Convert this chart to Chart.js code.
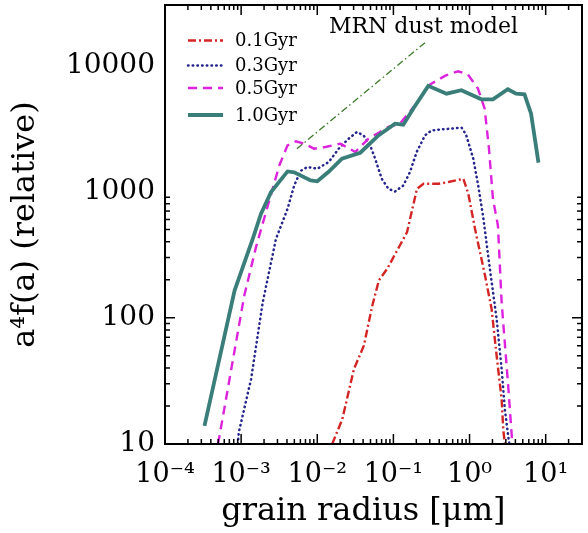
<!DOCTYPE html>
<html>
<head>
<meta charset="utf-8">
<script src="https://cdn.jsdelivr.net/npm/chart.js@4"></script>
<style>
html,body{margin:0;padding:0;background:#fff;}
#wrap{width:588px;height:533px;position:relative;}
</style>
</head>
<body>
<div id="wrap"><canvas id="c" width="588" height="533"></canvas></div>
<script>
// ---- data ----
const seriesNames = ['0.1Gyr', '0.3Gyr', '0.5Gyr', '1.0Gyr'];

const a_01 = [0.0157, 0.0213, 0.0303, 0.0409, 0.0527, 0.0643, 0.0828, 0.106, 0.151, 0.204, 0.249, 0.391, 0.528, 0.83, 0.964, 1.18, 1.60, 1.95, 2.27, 2.64, 2.77, 2.91];
const f_01 = [10, 15.7, 39.2, 60, 124, 197, 244, 321, 476, 1050, 1151, 1151, 1188, 1261, 959, 506, 215, 117, 49.9, 22.6, 13.1, 10];

const a_03 = [9.05e-4, 9.3e-4, 1.35e-3, 1.92e-3, 2.87e-3, 4.07e-3, 4.98e-3, 6.08e-3, 7.44e-3, 0.0100, 0.0141, 0.0191, 0.0258, 0.0331, 0.0405, 0.0496, 0.0576, 0.0703, 0.0861, 0.105, 0.135, 0.165, 0.202, 0.260, 0.317, 0.428, 0.578, 0.786, 0.90, 1.12, 1.30, 1.51, 1.85, 2.27, 2.64, 2.91, 3.22, 3.33];
const f_03 = [10, 12.3, 32.6, 132, 422, 730, 1116, 1460, 1563, 1514, 1711, 2183, 2618, 2958, 2782, 2317, 1818, 1261, 1050, 1000, 1116, 1425, 2054, 2782, 3046, 3105, 3147, 3206, 2820, 1818, 1116, 630, 244, 97.7, 39.2, 18.8, 11.6, 10];

const a_05 = [4.96e-4, 5.2e-4, 1.10e-3, 1.57e-3, 3.17e-3, 4.07e-3, 5.23e-3, 6.72e-3, 9.08e-3, 0.0128, 0.0201, 0.0316, 0.0471, 0.0861, 0.122, 0.192, 0.302, 0.474, 0.708, 0.955, 1.29, 1.58, 1.80, 2.03, 2.36, 2.64, 3.22, 3.56, 3.65];
const f_05 = [10, 11.6, 150, 364, 1608, 2318, 2494, 2393, 2185, 2250, 2393, 2055, 2620, 3245, 3446, 4820, 7030, 8240, 8960, 8430, 6530, 4530, 2185, 875, 537, 132, 28.8, 12.3, 10];

const a_10 = [3.3e-4, 8.2e-4, 1.42e-3, 1.82e-3, 2.47e-3, 4.07e-3, 4.98e-3, 8.2e-3, 0.0100, 0.0141, 0.0211, 0.0367, 0.0637, 0.105, 0.135, 0.182, 0.287, 0.498, 0.782, 1.43, 2.03, 3.18, 4.09, 5.27, 6.43, 8.04];
const f_10 = [13.9, 164, 422, 665, 989, 1442, 1420, 1223, 1205, 1433, 1818, 2028, 2782, 3446, 3383, 4527, 6867, 5955, 6340, 5370, 5370, 6456, 5955, 5888, 4140, 1692];

const a_mrn = [0.0054, 0.26];
const f_mrn = [2180, 15100];
const mrnLabel = 'MRN dust model';

const xTickVals = [1e-4, 1e-3, 1e-2, 1e-1, 1e0, 1e1];
const xTickLabels = ['10\u207B\u2074', '10\u207B\u00B3', '10\u207B\u00B2', '10\u207B\u00B9', '10\u2070', '10\u00B9'];
const yTickVals = [10, 100, 1000, 10000];
const yTickLabels = ['10', '100', '1000', '10000'];
const xTitle = 'grain radius [\u03BCm]  ';
const yTitle = 'a\u2074f(a) (relative)';

// ---- build ----
const pts = (xs, ys) => xs.map((v, i) => ({x: v, y: ys[i]}));
const FONT = "'DejaVu Serif', serif";

const styles = [
  {color: '#d42424', dash: [8, 3, 2, 3], width: 2.4, cap: 'butt'},
  {color: '#25258e', dash: [0.5, 4.2], width: 2.5, cap: 'round'},
  {color: '#dd22dd', dash: [9, 6], width: 2.4, cap: 'butt'},
  {color: '#3a7e7a', dash: [], width: 3.8, cap: 'butt'}
];
const seriesData = [pts(a_01, f_01), pts(a_03, f_03), pts(a_05, f_05), pts(a_10, f_10)];

const datasets = seriesData.map((d, i) => ({
  label: seriesNames[i],
  data: d,
  borderColor: styles[i].color,
  borderDash: styles[i].dash,
  borderWidth: styles[i].width,
  borderCapStyle: styles[i].cap,
  pointRadius: 0,
  fill: false,
  tension: 0,
  order: 4 - i
}));
datasets.push({
  label: mrnLabel,
  data: pts(a_mrn, f_mrn),
  borderColor: '#3d7a2a',
  borderDash: [7, 3, 1.5, 3],
  borderWidth: 1.3,
  pointRadius: 0,
  fill: false,
  order: 5
});

const decor = {
  id: 'decor',
  afterDraw(chart) {
    const {ctx, chartArea: {left, right, top, bottom}, scales: {x, y}} = chart;
    ctx.save();
    ctx.strokeStyle = '#000';
    ctx.lineWidth = 2;
    ctx.strokeRect(left, top, right - left, bottom - top);
    ctx.lineWidth = 1.5;
    const seg = (x1, y1, x2, y2) => { ctx.beginPath(); ctx.moveTo(x1, y1); ctx.lineTo(x2, y2); ctx.stroke(); };
    for (let e = -5; e <= 2; e++) {
      for (let m = 1; m <= 9; m++) {
        const v = m * Math.pow(10, e);
        const len = m === 1 ? 10 : 5;
        if (v >= x.min * 0.999 && v <= x.max * 1.001) {
          const px = x.getPixelForValue(v);
          seg(px, bottom, px, bottom - len);
          seg(px, top, px, top + len);
        }
        if (v >= y.min * 0.999 && v <= y.max * 1.001) {
          const py = y.getPixelForValue(v);
          seg(left, py, left + len, py);
          seg(right, py, right - len, py);
        }
      }
    }
    // legend
    const rows = [40.5, 65.5, 88, 115];
    ctx.font = "18px " + FONT;
    ctx.textBaseline = 'middle';
    ctx.textAlign = 'left';
    chart.data.datasets.slice(0, 4).forEach((ds, i) => {
      ctx.strokeStyle = ds.borderColor;
      ctx.lineWidth = ds.borderWidth;
      ctx.lineCap = ds.borderCapStyle || 'butt';
      ctx.setLineDash(ds.borderDash);
      seg(188, rows[i], 223, rows[i]);
      ctx.setLineDash([]);
      ctx.lineCap = 'butt';
      ctx.fillStyle = '#000';
      ctx.fillText(ds.label, 235, rows[i] + 1);
    });
    // MRN label
    ctx.font = "22px " + FONT;
    ctx.fillStyle = '#000';
    ctx.textBaseline = 'alphabetic';
    ctx.fillText(mrnLabel, 329, 33);
    ctx.restore();
  }
};

new Chart(document.getElementById('c'), {
  type: 'line',
  data: {datasets},
  options: {
    responsive: false,
    animation: false,
    devicePixelRatio: 1,
    layout: {padding: {left: 0, right: 6, top: 5, bottom: 0}},
    plugins: {legend: {display: false}, tooltip: {enabled: false}},
    scales: {
      x: {
        type: 'logarithmic',
        min: 1e-4,
        max: 30,
        afterBuildTicks: s => { s.ticks = xTickVals.map(v => ({value: v})); },
        afterFit: s => { s.height = 89; s.paddingLeft = 0; s.paddingRight = 0; },
        grid: {display: false, drawTicks: false},
        border: {display: false},
        ticks: {
          autoSkip: false, maxRotation: 0, minRotation: 0, padding: 15,
          color: '#000', font: {family: FONT, size: 27},
          callback: (v, i) => xTickLabels[i]
        },
        title: {display: true, text: xTitle, color: '#000', font: {family: FONT, size: 32}, padding: {top: 0, bottom: 2}}
      },
      y: {
        type: 'logarithmic',
        min: 10,
        max: 30000,
        afterBuildTicks: s => { s.ticks = yTickVals.map(v => ({value: v})); },
        afterFit: s => { s.width = 165; s.paddingTop = 0; s.paddingBottom = 0; },
        grid: {display: false, drawTicks: false},
        border: {display: false},
        ticks: {
          autoSkip: false, padding: 10,
          color: '#000', font: {family: FONT, size: 28},
          callback: (v, i) => yTickLabels[i]
        },
        title: {display: true, text: yTitle, color: '#000', font: {family: FONT, size: 32}, padding: {top: 6, bottom: 0}}
      }
    }
  },
  plugins: [decor]
});
</script>
</body>
</html>
